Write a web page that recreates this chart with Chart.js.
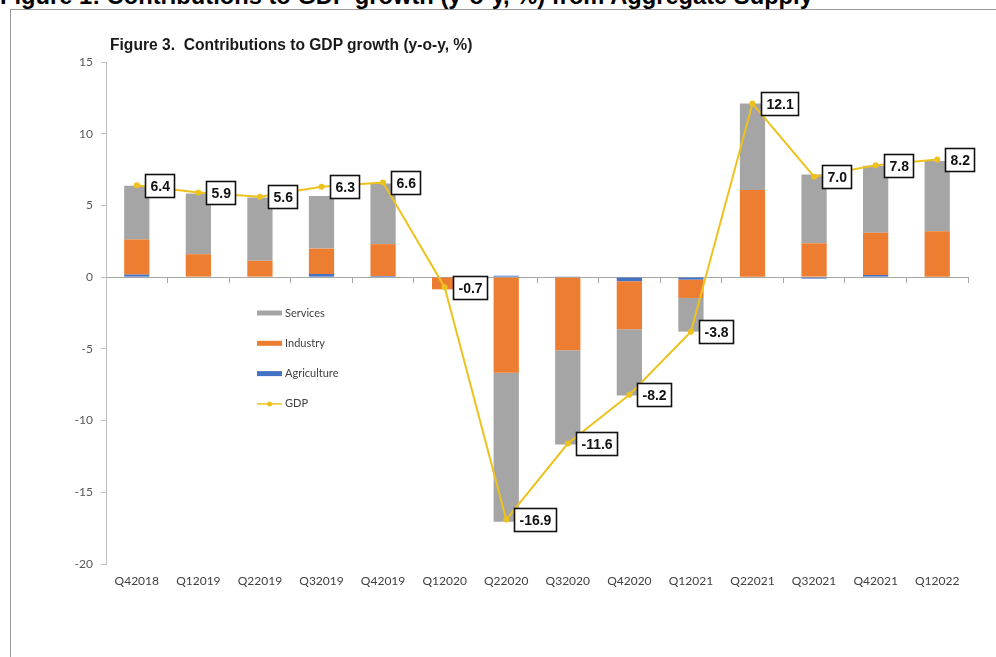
<!DOCTYPE html>
<html><head><meta charset="utf-8">
<script src="https://cdn.jsdelivr.net/npm/chart.js@4.4.1/dist/chart.umd.min.js"></script>
<style>
html,body{margin:0;padding:0;background:#fff;}
#wrap{position:relative;width:996px;height:657px;overflow:hidden;}
#frame{position:absolute;left:10px;top:9px;width:1000px;height:700px;border-left:1px solid #9a9a9a;border-top:1px solid #9a9a9a;}
#outer{position:absolute;left:0;top:-16px;font:bold 23.7px "Liberation Sans",Arial,sans-serif;line-height:24px;white-space:nowrap;color:#000;}
#inner{position:absolute;left:110px;top:37px;font:bold 15.6px "Liberation Sans",Arial,sans-serif;line-height:16px;white-space:pre;color:#1a1a1a;}
canvas{position:absolute;left:0;top:0;}
</style></head><body>
<div id="wrap">
<div id="frame"></div>
<div id="outer">Figure 1: Contributions to GDP growth (y-o-y, %) from Aggregate Supply</div>
<canvas id="c" width="996" height="657"></canvas>
<div id="inner">Figure 3.  Contributions to GDP growth (y-o-y, %)</div>
</div>
<script>
const quarters = ['Q42018','Q12019','Q22019','Q32019','Q42019','Q12020','Q22020','Q32020','Q42020','Q12021','Q22021','Q32021','Q42021','Q12022'];
const agriculture = [0.18, 0, 0, 0.22, 0.08, 0, 0.1, 0.05, -0.28, -0.17, 0, -0.1, 0.15, 0];
const industry    = [2.45, 1.6, 1.14, 1.77, 2.22, -0.85, -6.67, -5.09, -3.35, -1.28, 6.08, 2.36, 2.95, 3.2];
const services    = [3.74, 4.24, 4.42, 3.66, 4.23, 0, -10.39, -6.58, -4.62, -2.35, 6.02, 4.79, 4.66, 4.9];
const gdp         = [6.4, 5.9, 5.6, 6.3, 6.6, -0.7, -16.9, -11.6, -8.2, -3.8, 12.1, 7.0, 7.8, 8.2];
const yTicks = {min: -20, max: 15, step: 5};
const legendOrder = ['Services','Industry','Agriculture','GDP'];

const C_SERV = '#A5A5A5', C_IND = '#ED7D31', C_AGR = '#4472C4', C_GDP = '#EEC21E';

const boxLegend = {
  id: 'boxLegend',
  afterDraw(chart, args, opts) {
    const ctx = chart.ctx;
    ctx.save();
    ctx.font = '11px Lato';
    ctx.textBaseline = 'middle';
    ctx.textAlign = 'left';
    legendOrder.forEach((name, i) => {
      const ds = chart.data.datasets.find(d => d.label === name);
      const y = opts.y + i * opts.step;
      const x = opts.x;
      if (ds.type === 'line') {
        ctx.strokeStyle = ds.borderColor; ctx.lineWidth = 1.5;
        ctx.beginPath(); ctx.moveTo(x, y); ctx.lineTo(x + opts.w, y); ctx.stroke();
        ctx.fillStyle = ds.borderColor;
        ctx.beginPath(); ctx.arc(x + opts.w / 2, y, 2.5, 0, Math.PI * 2); ctx.fill();
      } else {
        ctx.fillStyle = ds.backgroundColor;
        ctx.fillRect(x, y - 2.5, opts.w, 5);
      }
      ctx.fillStyle = '#404040';
      ctx.fillText(name, x + opts.w + 3, y);
    });
    ctx.restore();
  }
};

const gdpLabels = {
  id: 'gdpLabels',
  afterDatasetsDraw(chart) {
    const idx = chart.data.datasets.findIndex(d => d.label === 'GDP');
    const meta = chart.getDatasetMeta(idx);
    const ctx = chart.ctx;
    ctx.save();
    ctx.font = 'bold 14px "Liberation Sans", Arial';
    ctx.textBaseline = 'middle';
    ctx.textAlign = 'left';
    meta.data.forEach((pt, i) => {
      const txt = chart.data.datasets[idx].data[i].toFixed(1);
      const w = Math.round(ctx.measureText(txt).width + 10);
      const h = 23;
      const x = Math.round(pt.x + 8) + 0.5, y = Math.round(pt.y - h / 2) + 0.5;
      ctx.fillStyle = '#fff'; ctx.fillRect(x, y, w, h);
      ctx.strokeStyle = '#111'; ctx.lineWidth = 1.6; ctx.strokeRect(x, y, w, h);
      ctx.fillStyle = '#111';
      ctx.fillText(txt, x + 5, y + h / 2 + 1);
    });
    ctx.restore();
  }
};

new Chart(document.getElementById('c'), {
  data: {
    labels: quarters,
    datasets: [
      {type: 'bar', label: 'Agriculture', data: agriculture, backgroundColor: C_AGR, order: 1, categoryPercentage: 0.41, barPercentage: 1},
      {type: 'bar', label: 'Industry', data: industry, backgroundColor: C_IND, order: 1, categoryPercentage: 0.41, barPercentage: 1},
      {type: 'bar', label: 'Services', data: services, backgroundColor: C_SERV, order: 1, categoryPercentage: 0.41, barPercentage: 1},
      {type: 'line', label: 'GDP', data: gdp, borderColor: C_GDP, backgroundColor: C_GDP, borderWidth: 2, pointRadius: 3, pointBorderWidth: 0, pointBackgroundColor: C_GDP, tension: 0, order: 0}
    ]
  },
  options: {
    responsive: false,
    animation: false,
    layout: {padding: {left: 10, right: 28, top: 62, bottom: 63}},
    plugins: {
      legend: {display: false},
      tooltip: {enabled: false},
      title: {display: false},
      boxLegend: {x: 257, y: 313, step: 30.3, w: 25}
    },
    scales: {
      x: {
        stacked: true, position: 'bottom',
        grid: {display: false, drawTicks: false}, border: {display: false},
        ticks: {font: {family: 'Lato', size: 12}, color: '#404040', padding: 10, maxRotation: 0, autoSkip: false},
        afterFit(s) { s.height = 30; }
      },
      x2: {
        type: 'category', labels: quarters, position: {y: 0}, offset: true,
        grid: {offset: true, drawOnChartArea: false, drawTicks: true, tickLength: 5, color: '#A6A6A6'},
        border: {display: true, color: '#A6A6A6', width: 1},
        ticks: {display: false}
      },
      y: {
        stacked: true, min: yTicks.min, max: yTicks.max,
        ticks: {stepSize: yTicks.step, font: {family: 'Lato', size: 12}, color: '#595959', padding: 8},
        grid: {drawOnChartArea: false, tickLength: 5, color: '#BFBFBF'},
        border: {color: '#BFBFBF'},
        afterFit(s) { s.width = 96; }
      }
    }
  },
  plugins: [gdpLabels, boxLegend]
});
</script>
</body></html>
